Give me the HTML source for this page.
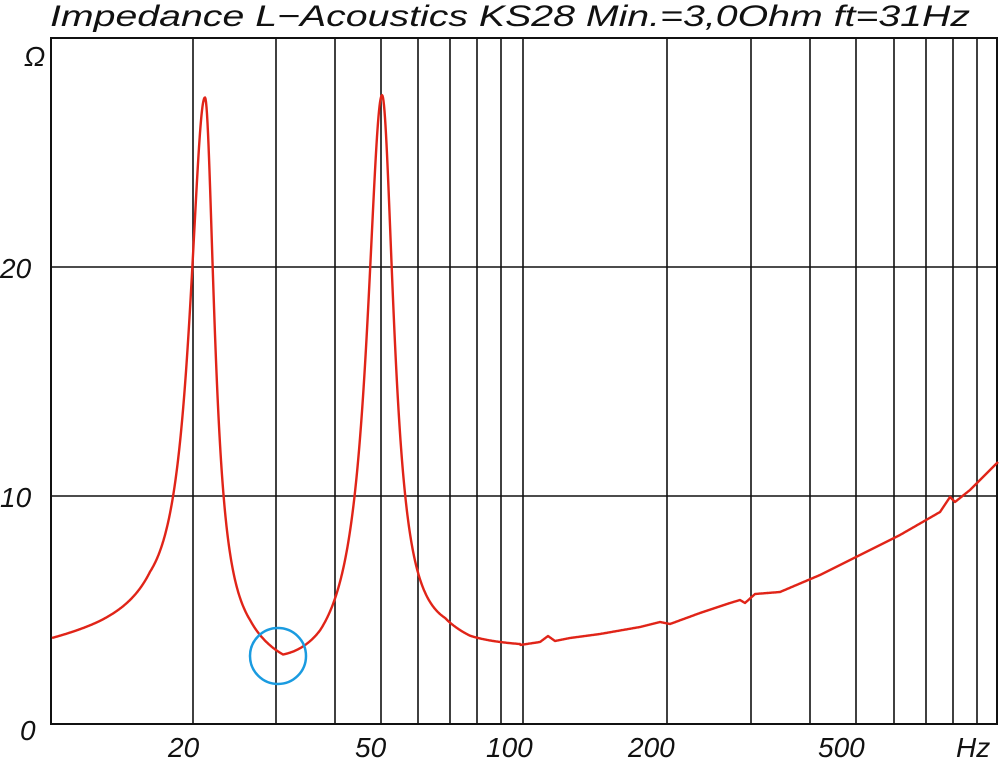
<!DOCTYPE html>
<html><head><meta charset="utf-8"><style>
body{margin:0;background:#fff;}
svg{display:block;font-family:"Liberation Sans",sans-serif;}
</style></head><body>
<svg width="1000" height="759" viewBox="0 0 1000 759">
<rect width="1000" height="759" fill="#fff"/>
<text x="50" y="26" font-size="30" font-style="italic" fill="#111" textLength="920" lengthAdjust="spacingAndGlyphs">Impedance L−Acoustics KS28 Min.=3,0Ohm  ft=31Hz</text>
<g stroke="#111" stroke-width="1.6" fill="none">
<line x1="51" y1="267" x2="997" y2="267"/>
<line x1="51" y1="496" x2="997" y2="496"/>
<line x1="193" y1="38" x2="193" y2="724"/>
<line x1="276" y1="38" x2="276" y2="724"/>
<line x1="335" y1="38" x2="335" y2="724"/>
<line x1="381" y1="38" x2="381" y2="724"/>
<line x1="418" y1="38" x2="418" y2="724"/>
<line x1="450" y1="38" x2="450" y2="724"/>
<line x1="477" y1="38" x2="477" y2="724"/>
<line x1="501" y1="38" x2="501" y2="724"/>
<line x1="523" y1="38" x2="523" y2="724"/>
<line x1="667" y1="38" x2="667" y2="724"/>
<line x1="751" y1="38" x2="751" y2="724"/>
<line x1="810" y1="38" x2="810" y2="724"/>
<line x1="856" y1="38" x2="856" y2="724"/>
<line x1="894" y1="38" x2="894" y2="724"/>
<line x1="926" y1="38" x2="926" y2="724"/>
<line x1="953" y1="38" x2="953" y2="724"/>
<line x1="977" y1="38" x2="977" y2="724"/>
<rect x="51" y="38" width="946" height="686" stroke-width="2"/>
</g>
<g font-size="28" font-style="italic" fill="#111">
<text x="24" y="66">Ω</text>
<text x="0" y="278">20</text>
<text x="0" y="507">10</text>
<text x="20" y="740">0</text>
<text x="168" y="757">20</text>
<text x="355" y="757">50</text>
<text x="486" y="757">100</text>
<text x="628" y="757">200</text>
<text x="818" y="757">500</text>
<text x="956" y="757">Hz</text>
</g>
<polyline id="c" fill="none" stroke="#e02418" stroke-width="2.4" stroke-linejoin="round" points=""/>
<circle cx="278" cy="656" r="28" fill="none" stroke="#1a9be0" stroke-width="2.5"/>
</svg>
<script>
function interp(pts,x){for(var i=0;i<pts.length-1;i++){if(x>=pts[i][0]&&x<=pts[i+1][0]){var t=(x-pts[i][0])/(pts[i+1][0]-pts[i][0]);return pts[i][1]+t*(pts[i+1][1]-pts[i][1]);}}return pts[pts.length-1][1];}
var base=[[52,3.35],[100,3.7],[150,4.1],[200,3.5],[250,2.65],[283,1.75],[320,1.95],[380,2.8],[445,3.35],[470,3.17],[520,3.2]];
var tail=[[520,645],[540,642],[548,636],[555,641],[570,638],[600,634],[640,627],[660,622],[670,624],[700,613],[730,603],[740,600],[745,603],[755,594],[780,592],[820,575],[860,555],[900,535],[940,512],[950,497],[955,502],[970,490],[998,462]];
function pk(x,x0,A,wl,wr){var w=x<x0?wl:wr;var r=(x-x0)/w;return A/(1+r*r);}
var s=[];
for(var x=52;x<=998;x+=0.5){var y;
 if(x<=520){var z=interp(base,x)+pk(x,205,23.75,18.5,11.5)+pk(x,382,24.6,18,14.5);y=724-22.85*z;}
 else y=interp(tail,x);
 s.push(x+","+y.toFixed(1));}
document.getElementById("c").setAttribute("points",s.join(" "));
</script>
</body></html>
